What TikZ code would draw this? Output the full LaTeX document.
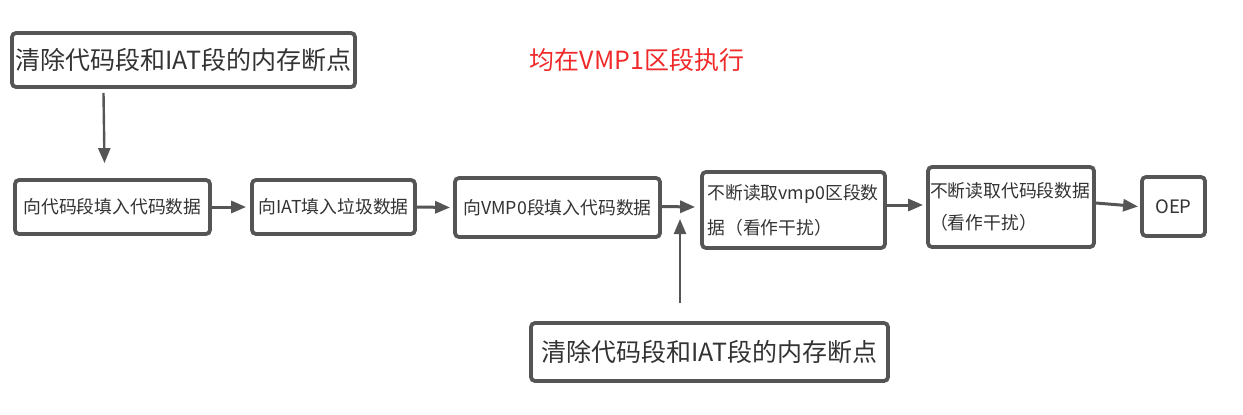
\documentclass[tikz,border=0pt]{standalone}
\usepackage{fontspec}
\setmainfont{Noto Sans CJK SC}
\usepackage{xcolor}
\usetikzlibrary{arrows.meta}
\definecolor{boxgray}{HTML}{555555}
\definecolor{textgray}{HTML}{333333}
\definecolor{notered}{HTML}{F02A2A}

\begin{document}
\begin{tikzpicture}[x=1pt, y=-1pt,
    stepbox/.style={draw=boxgray, line width=3.8pt, rounded corners=4pt,
        fill=white, inner sep=0pt, text=textgray},
    flowarrow/.style={draw=boxgray, line width=3pt,
        -{Triangle[length=15pt, width=12pt]}}]
  \useasboundingbox (0,0) rectangle (1243,415);

  % breakpoint boxes
  \node[stepbox, minimum width=343pt, minimum height=54pt,
        font=\fontsize{25pt}{30pt}\selectfont] (clrtop) at (183.5,60)
        {清除代码段和IAT段的内存断点};
  \node[stepbox, minimum width=357pt, minimum height=58pt,
        font=\fontsize{25pt}{30pt}\selectfont] (clrbot) at (709.5,352)
        {清除代码段和IAT段的内存断点};
  \node[text=notered, font=\fontsize{25pt}{30pt}\selectfont] (vmpnote) at (637,60)
        {均在VMP1区段执行};

  % main flow
  \node[stepbox, minimum width=195pt, minimum height=54pt,
        font=\fontsize{17.8pt}{22pt}\selectfont] (fillcode) at (112.5,207)
        {向代码段填入代码数据};
  \node[stepbox, minimum width=163pt, minimum height=54pt,
        font=\fontsize{17.8pt}{22pt}\selectfont] (filliat) at (333.5,207)
        {向IAT填入垃圾数据};
  \node[stepbox, minimum width=205pt, minimum height=59pt,
        font=\fontsize{17.8pt}{22pt}\selectfont] (fillvmp) at (557.5,207.5)
        {向VMP0段填入代码数据};
  \node[stepbox, minimum width=183pt, minimum height=76pt, align=left,
        font=\fontsize{17.8pt}{35pt}\selectfont] (readvmp) at (793.5,210)
        {\makebox[172pt][l]{不断读取vmp0区段数}\\据（看作干扰）};
  \node[stepbox, minimum width=166pt, minimum height=80pt, align=left,
        font=\fontsize{17.8pt}{32pt}\selectfont] (readcode) at (1011,207)
        {\makebox[162pt][l]{不断读取代码段数据}\\（看作干扰）};
  \node[stepbox, minimum width=63pt, minimum height=59pt,
        font=\fontsize{18.5pt}{22pt}\selectfont] (oep) at (1173.5,206.5) {OEP};

  \coordinate (hit) at (680,219);

  \draw[flowarrow, line width=2.4pt] ([xshift=-80pt, yshift=-4pt]clrtop.south)
    -- ([xshift=-8pt, yshift=15pt]fillcode.north);
  \draw[flowarrow] (fillcode.east) -- ([xshift=-4pt]filliat.west);
  \draw[flowarrow] (filliat.east) -- ([xshift=-3pt]fillvmp.west);
  \draw[flowarrow] ([yshift=1pt]fillvmp.east) -- ([xshift=-5pt, yshift=3pt]readvmp.west);
  \draw[flowarrow] ([yshift=5pt]readvmp.east) -- ([xshift=-3pt, yshift=2pt]readcode.west);
  \draw[flowarrow] ([yshift=4pt]readcode.east) -- ([xshift=-2pt]oep.west);
  \draw[flowarrow, line width=2.2pt] ([xshift=-29.5pt, yshift=18pt]clrbot.north) -- (hit);
\end{tikzpicture}
\end{document}
